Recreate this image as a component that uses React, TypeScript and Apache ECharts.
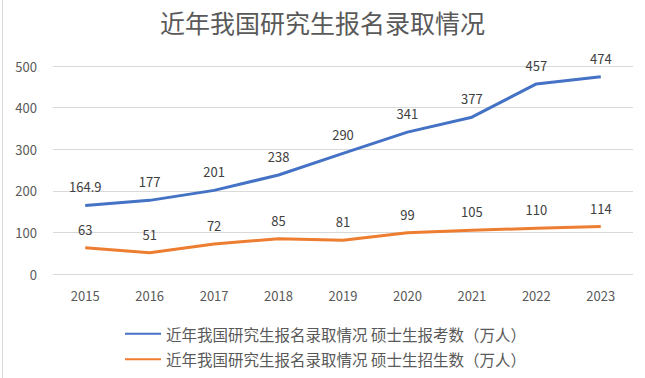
import React, { useEffect, useRef } from "react";
import * as echarts from "echarts";

const years = ["2015", "2016", "2017", "2018", "2019", "2020", "2021", "2022", "2023"];
const applicants = [164.9, 177, 201, 238, 290, 341, 377, 457, 474];
const admitted = [63, 51, 72, 85, 81, 99, 105, 110, 114];
const titleText = "近年我国研究生报名录取情况";
const seriesNames = [
  "近年我国研究生报名录取情况 硕士生报考数（万人）",
  "近年我国研究生报名录取情况 硕士生招生数（万人）",
];

const FONT = "'Noto Sans CJK SC', 'Noto Sans', sans-serif";

export default function App() {
  const ref = useRef<HTMLDivElement>(null);
  useEffect(() => {
    if (!ref.current) return;
    const chart = echarts.init(ref.current, null, { renderer: "svg" });
    const labelStyle = {
      show: true,
      position: "top" as const,
      distance: 12,
      color: "#404040",
      fontSize: 13,
      fontFamily: FONT,
    };
    chart.setOption({
      animation: false,
      backgroundColor: "#ffffff",
      textStyle: { fontFamily: FONT },
      title: {
        text: titleText,
        left: "center",
        top: 4,
        textStyle: { color: "#595959", fontSize: 25, fontWeight: "normal", fontFamily: FONT },
      },
      grid: { left: 53, right: 12, top: 66, bottom: 104 },
      xAxis: {
        type: "category",
        data: years,
        boundaryGap: true,
        axisLine: { show: false },
        axisTick: { show: false },
        axisLabel: { color: "#595959", fontSize: 13, margin: 15, fontFamily: FONT },
      },
      yAxis: {
        type: "value",
        min: 0,
        max: 500,
        interval: 100,
        axisLine: { show: false },
        axisTick: { show: false },
        axisLabel: { color: "#595959", fontSize: 13, margin: 16, fontFamily: FONT },
        splitLine: { lineStyle: { color: "#d9d9d9", width: 1 } },
      },
      legend: {
        orient: "vertical",
        left: 120,
        top: 321,
        itemGap: 10,
        itemWidth: 36,
        itemHeight: 16,
        icon: "path://M0,7 L36,7 L36,9 L0,9 Z",
        textStyle: { color: "#595959", fontSize: 15.5, fontFamily: FONT },
        data: seriesNames,
      },
      graphic: [
        {
          type: "line",
          shape: { x1: 2.5, y1: 0, x2: 2.5, y2: 378 },
          style: { stroke: "#d9d9d9", lineWidth: 1 },
        },
      ],
      series: [
        {
          name: seriesNames[0],
          type: "line",
          data: applicants,
          symbol: "circle",
          symbolSize: 0,
          showSymbol: true,
          lineStyle: { color: "#4472C4", width: 3 },
          itemStyle: { color: "#4472C4" },
          label: labelStyle,
        },
        {
          name: seriesNames[1],
          type: "line",
          data: admitted,
          symbol: "circle",
          symbolSize: 0,
          showSymbol: true,
          lineStyle: { color: "#ED7D31", width: 3 },
          itemStyle: { color: "#ED7D31" },
          label: labelStyle,
        },
      ],
    });
    return () => chart.dispose();
  }, []);
  return <div ref={ref} style={{ width: 645, height: 378, position: "absolute", left: 0, top: 0 }} />;
}
